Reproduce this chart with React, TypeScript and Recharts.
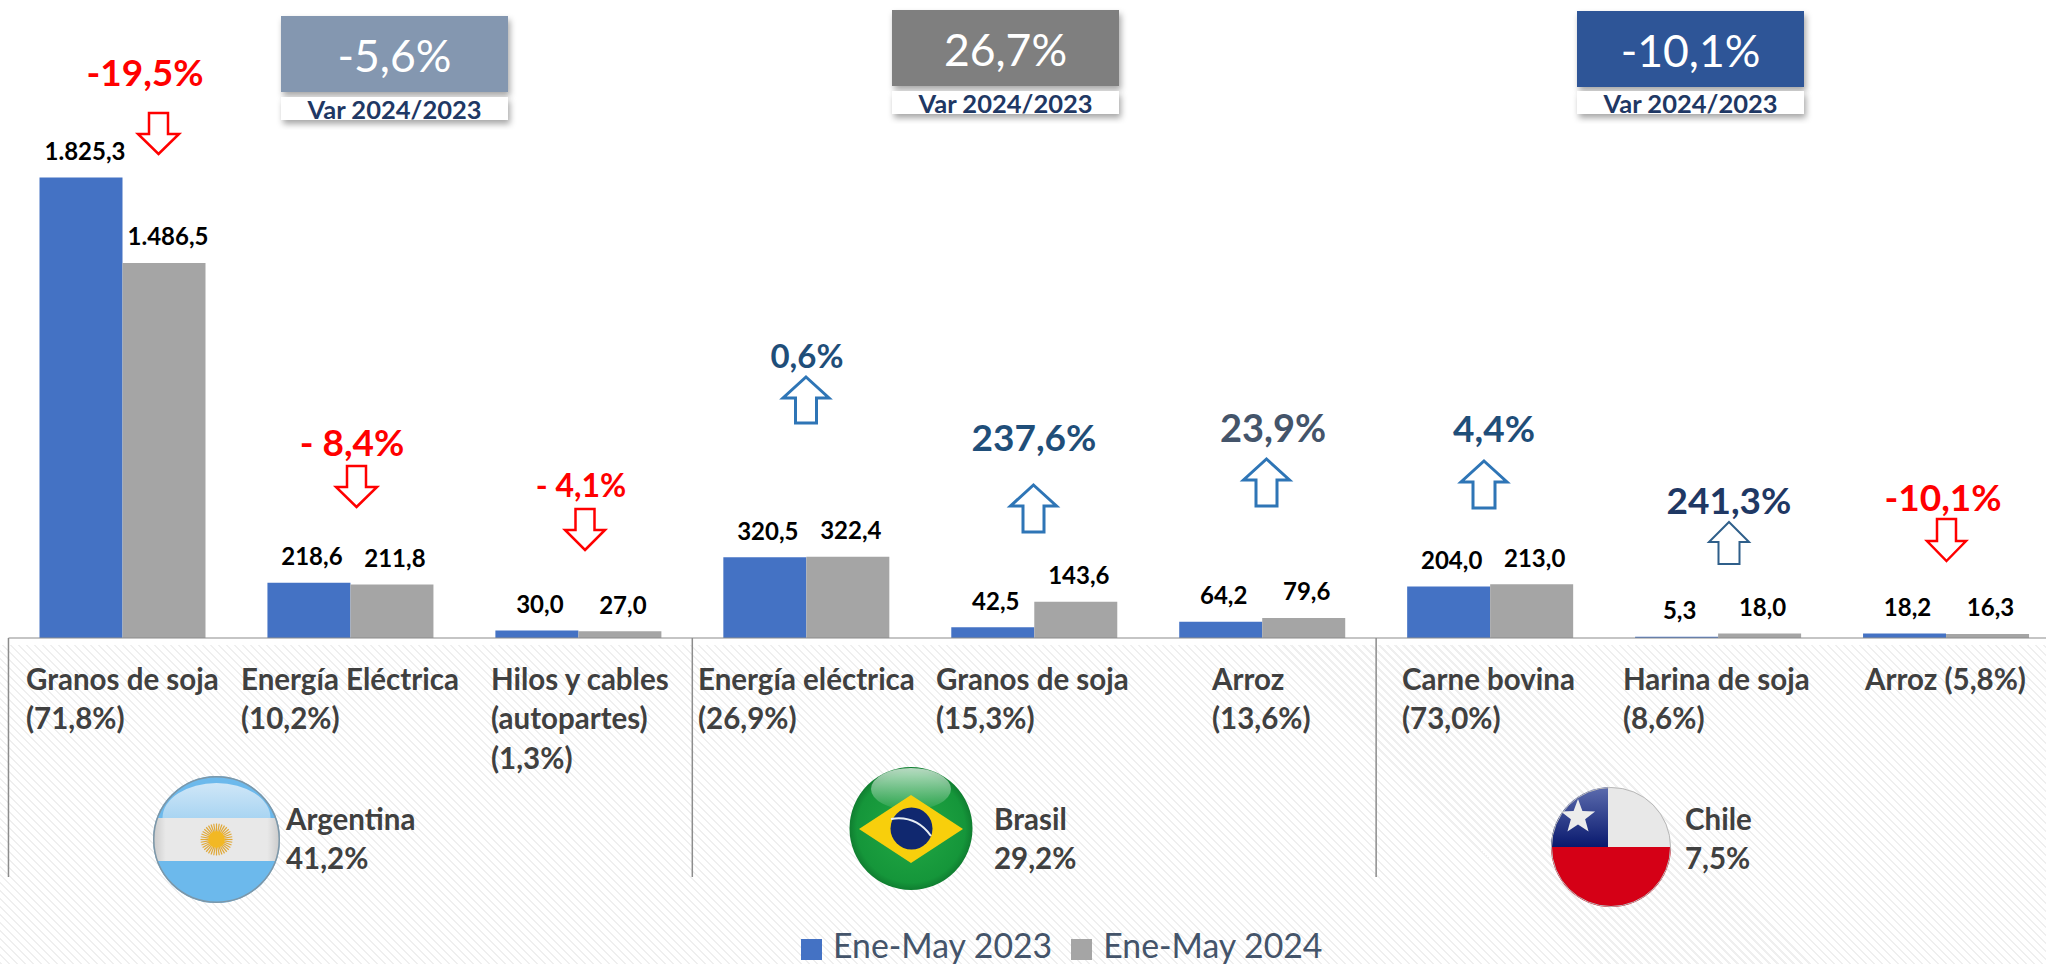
import React from "react";
import { ComposedChart, Bar, XAxis, YAxis, LabelList, Legend } from "recharts";

const tickLines: string[][] = [
  ["Granos de soja", "(71,8%)"],
  ["Energía Eléctrica", "(10,2%)"],
  ["Hilos y cables", "(autopartes)", "(1,3%)"],
  ["Energía eléctrica", "(26,9%)"],
  ["Granos de soja", "(15,3%)"],
  ["Arroz", "(13,6%)"],
  ["Carne bovina", "(73,0%)"],
  ["Harina de soja", "(8,6%)"],
  ["Arroz (5,8%)"],
];
const values2023 = [1825.3, 218.6, 30.0, 320.5, 42.5, 64.2, 204.0, 5.3, 18.2];
const values2024 = [1486.5, 211.8, 27.0, 322.4, 143.6, 79.6, 213.0, 18.0, 16.3];
const changes = ["-19,5%", "- 8,4%", "- 4,1%", "0,6%", "237,6%", "23,9%", "4,4%", "241,3%", "-10,1%"];
const countries = ["Argentina", "Brasil", "Chile"];
const countryShares = ["41,2%", "29,2%", "7,5%"];
const countryChanges = ["-5,6%", "26,7%", "-10,1%"];
const seriesNames = ["Ene-May 2023", "Ene-May 2024"];

const rows = tickLines.map((lines, i) => ({
  label: lines.join(" "),
  a: values2023[i],
  b: values2024[i],
}));

const FONT = "Lato, 'Open Sans', sans-serif";
const AXIS_Y = 638;
const SEP_BOTTOM = 877;
const BAND = 228;
const tickLeft = [26, 241, 491, 698, 936, 1212, 1402, 1623, 1865];
const tickLineY = [678, 717.5, 757];

const changeLayout = [
  { x: 145, y: 71, size: 37, color: "#ff0000" },
  { x: 352, y: 441, size: 37, color: "#ff0000" },
  { x: 581, y: 484, size: 32, color: "#ff0000" },
  { x: 807, y: 355, size: 33, color: "#1f4e79" },
  { x: 1034, y: 436, size: 37, color: "#1f4e79" },
  { x: 1273, y: 427, size: 38, color: "#44546a" },
  { x: 1494, y: 427, size: 37, color: "#1f4e79" },
  { x: 1729, y: 499, size: 37, color: "#1f3864" },
  { x: 1943, y: 496, size: 37, color: "#ff0000" },
];
const arrowLayout = [
  { cx: 158.5, top: 113, bottom: 154, hw: 20.5, sw: 9.5, head: 20, dir: "down", color: "#ff0000", sw2: 2.5 },
  { cx: 356.5, top: 466, bottom: 507, hw: 20.5, sw: 9.5, head: 20, dir: "down", color: "#ff0000", sw2: 2.5 },
  { cx: 585, top: 509, bottom: 550, hw: 20, sw: 9.5, head: 20, dir: "down", color: "#ff0000", sw2: 2.5 },
  { cx: 806, top: 377, bottom: 423, hw: 23, sw: 10.5, head: 21, dir: "up", color: "#2e75b6", sw2: 3 },
  { cx: 1033.5, top: 485, bottom: 532, hw: 23, sw: 10.5, head: 21, dir: "up", color: "#2e75b6", sw2: 3 },
  { cx: 1266.5, top: 459, bottom: 506, hw: 23, sw: 10.5, head: 21, dir: "up", color: "#2e75b6", sw2: 3 },
  { cx: 1484, top: 461, bottom: 508, hw: 23, sw: 11, head: 21, dir: "up", color: "#2e75b6", sw2: 3 },
  { cx: 1729, top: 522, bottom: 564, hw: 20, sw: 10.5, head: 20, dir: "up", color: "#2f5f8a", sw2: 2 },
  { cx: 1946.5, top: 519, bottom: 561, hw: 19.5, sw: 9.5, head: 20, dir: "down", color: "#ff0000", sw2: 2.5 },
];
const boxLayout = [
  { x: 281, w: 227, y: 16, h: 76, subY: 97, subH: 23, fill: "#8497b0" },
  { x: 892, w: 227, y: 10, h: 76, subY: 91, subH: 23, fill: "#7f7f7f" },
  { x: 1577, w: 227, y: 11, h: 76, subY: 91, subH: 23, fill: "#2f5597" },
];
const countryTextX = [286, 994, 1685];
const countryTextY = [818, 857];

function Arrow({ cx, top, bottom, hw, sw, head, dir, color, sw2 }: any) {
  const d =
    dir === "up"
      ? `M${cx} ${top}L${cx + hw} ${top + head}H${cx + sw}V${bottom}H${cx - sw}V${top + head}H${cx - hw}Z`
      : `M${cx} ${bottom}L${cx + hw} ${bottom - head}H${cx + sw}V${top}H${cx - sw}V${bottom - head}H${cx - hw}Z`;
  return <path d={d} fill="#fff" stroke={color} strokeWidth={sw2} />;
}

function Gloss({ cx, cy, rx, ry, id }: any) {
  return <ellipse cx={cx} cy={cy} rx={rx} ry={ry} fill={`url(#${id})`} />;
}

function ArgentinaFlag() {
  const cx = 216.5, cy = 839.5, r = 63.5;
  const rays = Array.from({ length: 36 }, (_, i) => (i * Math.PI * 2) / 36);
  return (
    <g>
      <clipPath id="clipAr"><circle cx={cx} cy={cy} r={r} /></clipPath>
      <g clipPath="url(#clipAr)">
        <rect x={cx - r} y={cy - r} width={2 * r} height={2 * r} fill="#6cb9ec" />
        <rect x={cx - r} y={818} width={2 * r} height={43} fill="url(#arBand)" />
        <path d={`M${cx - 54} 818 A 54 35 0 0 1 ${cx + 54} 818 Z`} fill="url(#arDome)" />
      </g>
      {rays.map((a, i) => (
        <line key={i} x1={cx + 8 * Math.cos(a)} y1={cy + 8 * Math.sin(a)} x2={cx + 16 * Math.cos(a)} y2={cy + 16 * Math.sin(a)} stroke="#e0a838" strokeWidth={1.2} />
      ))}
      <circle cx={cx} cy={cy} r={8.5} fill="#f2b824" />
      <circle cx={cx} cy={cy} r={r - 0.75} fill="none" stroke="#7d97a8" strokeWidth={1.5} />
    </g>
  );
}

function BrazilFlag() {
  const cx = 911, cy = 828.5, r = 61.5;
  return (
    <g>
      <circle cx={cx} cy={cy} r={r} fill="url(#brGreen)" />
      <Gloss cx={cx} cy={789} rx={40} ry={21} id="glossW" />
      <path d={`M${cx} 795L963 829L${cx} 863L859 829Z`} fill="#f8cf0c" />
      <circle cx={cx + 0.5} cy={cy} r={21} fill="#10286f" />
      <path d={`M${cx - 20} 819Q${cx + 5} 815 ${cx + 20} 836`} fill="none" stroke="#e8eef5" strokeWidth={2} />
    </g>
  );
}

function ChileFlag() {
  const cx = 1611, cy = 847, r = 60;
  const star = Array.from({ length: 10 }, (_, i) => {
    const rad = i % 2 === 0 ? 18 : 7.5;
    const a = -Math.PI / 2 + (i * Math.PI) / 5;
    return `${1578 + rad * Math.cos(a)},${817 + rad * Math.sin(a)}`;
  }).join(" ");
  return (
    <g>
      <clipPath id="clipCl"><circle cx={cx} cy={cy} r={r} /></clipPath>
      <g clipPath="url(#clipCl)">
        <rect x={cx - r} y={cy - r} width={2 * r} height={r} fill="#e8e8e8" />
        <rect x={cx - r} y={cy - r} width={57} height={r} fill="url(#clBlue)" />
        <rect x={cx - r} y={cy} width={2 * r} height={r} fill="#d50016" />
      </g>
      <polygon points={star} fill="#ececec" />
      <circle cx={cx} cy={cy} r={r - 0.5} fill="none" stroke="#b9b9b9" strokeWidth={1} />
    </g>
  );
}

function Annotations() {
  return (
    <g>
      <defs>
        <filter id="boxShadow" x="-10%" y="-10%" width="125%" height="150%">
          <feDropShadow dx={2} dy={4} stdDeviation={3} floodColor="#000" floodOpacity={0.35} />
        </filter>
        <radialGradient id="brGreen" cx="50%" cy="50%" r="55%">
          <stop offset="0%" stopColor="#22a845" />
          <stop offset="80%" stopColor="#15963a" />
          <stop offset="100%" stopColor="#0b6a28" />
        </radialGradient>
        <linearGradient id="glossW" x1="0" y1="0" x2="0" y2="1">
          <stop offset="0%" stopColor="#fff" stopOpacity={0.7} />
          <stop offset="100%" stopColor="#fff" stopOpacity={0.05} />
        </linearGradient>
        <linearGradient id="clBlue" x1="0" y1="0" x2="0" y2="1">
          <stop offset="0%" stopColor="#5c6cae" />
          <stop offset="100%" stopColor="#09196e" />
        </linearGradient>
        <linearGradient id="arDome" x1="0" y1="0" x2="0" y2="1">
          <stop offset="0%" stopColor="#cfe6f7" />
          <stop offset="100%" stopColor="#a9d5f2" />
        </linearGradient>
        <linearGradient id="arBand" x1="0" y1="0" x2="1" y2="0">
          <stop offset="0%" stopColor="#c9c9c9" />
          <stop offset="10%" stopColor="#e8e8e8" />
          <stop offset="90%" stopColor="#e8e8e8" />
          <stop offset="100%" stopColor="#c9c9c9" />
        </linearGradient>
      </defs>

      {boxLayout.map((b, i) => (
        <g key={i} fontFamily={FONT}>
          <rect x={b.x} y={b.subY} width={b.w} height={b.subH} fill="#fff" filter="url(#boxShadow)" />
          <rect x={b.x} y={b.y} width={b.w} height={b.h} fill={b.fill} filter="url(#boxShadow)" />
          <rect x={b.x} y={b.subY} width={b.w} height={b.subH} fill="#fff" />
          <text x={b.x + b.w / 2} y={b.y + b.h / 2} textAnchor="middle" dominantBaseline="central" fill="#fff" fontSize={44.5}>
            {countryChanges[i]}
          </text>
          <text x={b.x + b.w / 2} y={b.subY + b.subH / 2} textAnchor="middle" dominantBaseline="central" fill="#1f3864" fontSize={25.5} fontWeight={700}>
            Var 2024/2023
          </text>
        </g>
      ))}

      {changes.map((c, i) => {
        const l = changeLayout[i];
        return (
          <text key={i} x={l.x} y={l.y} textAnchor="middle" dominantBaseline="central" fill={l.color} fontSize={l.size} fontWeight={700} fontFamily={FONT}>
            {c}
          </text>
        );
      })}
      {arrowLayout.map((a, i) => (
        <Arrow key={i} {...a} />
      ))}

      <ArgentinaFlag />
      <BrazilFlag />
      <ChileFlag />

      {countries.map((c, i) => (
        <g key={c} fill="#404040" fontFamily={FONT} fontSize={29.5} fontWeight={700}>
          <text x={countryTextX[i]} y={countryTextY[0]} dominantBaseline="central">{c}</text>
          <text x={countryTextX[i]} y={countryTextY[1]} dominantBaseline="central">{countryShares[i]}</text>
        </g>
      ))}
    </g>
  );
}

function CategoryTick({ x, index }: any) {
  return (
    <g>
      {index % 3 === 0 && (
        <line x1={x - BAND / 2} x2={x - BAND / 2} y1={AXIS_Y} y2={SEP_BOTTOM} stroke="#8c8c8c" strokeWidth={1.5} />
      )}
      <text fontFamily={FONT} fontSize={29.5} fontWeight={700} fill="#404040">
        {tickLines[index].map((line, i) => (
          <tspan key={i} x={tickLeft[index]} y={tickLineY[i]} dominantBaseline="central">
            {line}
          </tspan>
        ))}
      </text>
    </g>
  );
}

const fmt = (v: number) =>
  v.toLocaleString("es-AR", { minimumFractionDigits: 1, maximumFractionDigits: 1 });

function ValueLabel({ x, y, width, value, index }: any) {
  const dx = index === 0 ? 4 : 3;
  return (
    <text x={x + width / 2 + dx} y={y - 27} textAnchor="middle" dominantBaseline="central" fill="#000" fontFamily={FONT} fontSize={24} fontWeight={700}>
      {fmt(value)}
    </text>
  );
}

function LegendContent({ payload }: any) {
  return (
    <div style={{ display: "flex", alignItems: "flex-start", height: 30 }}>
      {(payload || []).map((item: any, i: number) => (
        <div key={i} style={{ display: "flex", alignItems: "flex-start", marginRight: 19 }}>
          <div style={{ width: 21, height: 21, marginTop: 9, marginRight: 11, background: item.color }} />
          <span style={{ color: "#44546a", fontFamily: FONT, fontSize: 33.8, lineHeight: "30px", whiteSpace: "nowrap" }}>{item.value}</span>
        </div>
      ))}
    </div>
  );
}

export default function App() {
  return (
    <div style={{ position: "absolute", left: 0, top: 0, width: 2046, height: 964, overflow: "hidden", background: "#fff" }}>
      <div
        style={{
          position: "absolute",
          left: 0,
          top: 645,
          width: 2046,
          height: 319,
          backgroundImage: "repeating-linear-gradient(45deg, #efefef 0 1.5px, transparent 1.5px 5.66px)",
        }}
      />
      <ComposedChart
        width={2060}
        height={964}
        data={rows}
        margin={{ top: 0, right: 0, left: 8.5, bottom: 0 }}
        barCategoryGap={31}
        barGap={0}
        style={{ position: "absolute", left: 0, top: 0 }}
      >
        <YAxis hide domain={[0, 2529]} />
        <XAxis
          dataKey="label"
          height={296}
          interval={0}
          tickLine={false}
          tickSize={0}
          tickMargin={0}
          axisLine={{ stroke: "#8c8c8c", strokeWidth: 1.2 }}
          tick={<CategoryTick />}
        />
        <Bar dataKey="a" name={seriesNames[0]} fill="#4472c4" isAnimationActive={false}>
          <LabelList dataKey="a" content={<ValueLabel />} />
        </Bar>
        <Bar dataKey="b" name={seriesNames[1]} fill="#a5a5a5" isAnimationActive={false}>
          <LabelList dataKey="b" content={<ValueLabel />} />
        </Bar>
        <Legend
          content={<LegendContent />}
          wrapperStyle={{ position: "absolute", left: 801, top: 930, width: 600, height: 30, bottom: "auto", padding: 0, margin: 0 }}
        />
        <Annotations />
      </ComposedChart>
    </div>
  );
}
